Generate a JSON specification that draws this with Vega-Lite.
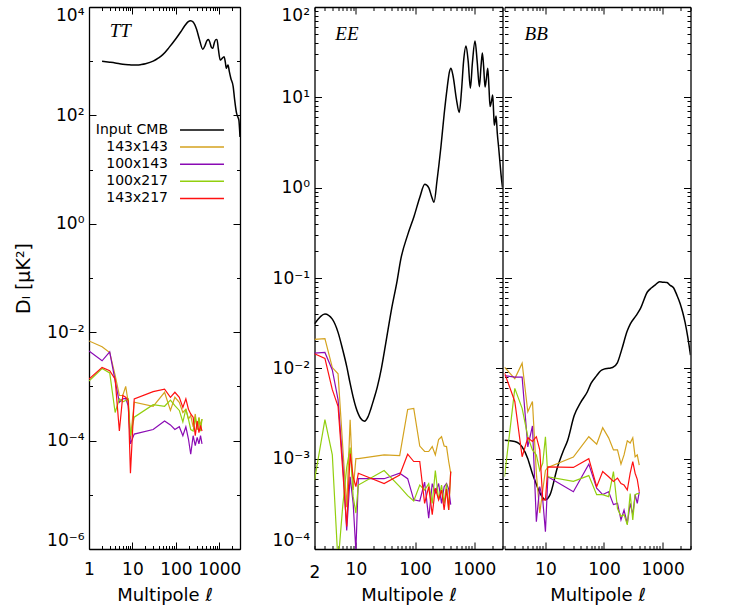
{
"$schema":"https://vega.github.io/schema/vega-lite/v6.json",
"background":"white",
"padding":{"left":14,"top":2,"right":5,"bottom":2},
"datasets":{
"TT":[
{"s":"Input CMB","l":2,"D":1000},{"s":"Input CMB","l":3,"D":960},{"s":"Input CMB","l":4,"D":930},{"s":"Input CMB","l":6,"D":880},{"s":"Input CMB","l":8,"D":860},{"s":"Input CMB","l":10,"D":850},{"s":"Input CMB","l":13,"D":850},{"s":"Input CMB","l":16,"D":870},{"s":"Input CMB","l":20,"D":900},{"s":"Input CMB","l":30,"D":1000},{"s":"Input CMB","l":40,"D":1150},{"s":"Input CMB","l":50,"D":1320},{"s":"Input CMB","l":70,"D":1800},{"s":"Input CMB","l":100,"D":2600},{"s":"Input CMB","l":130,"D":3500},{"s":"Input CMB","l":160,"D":4500},{"s":"Input CMB","l":190,"D":5300},{"s":"Input CMB","l":220,"D":5600},{"s":"Input CMB","l":250,"D":5300},{"s":"Input CMB","l":300,"D":3900},{"s":"Input CMB","l":350,"D":2500},{"s":"Input CMB","l":417,"D":1660},{"s":"Input CMB","l":470,"D":1950},{"s":"Input CMB","l":520,"D":2400},{"s":"Input CMB","l":565,"D":2520},{"s":"Input CMB","l":610,"D":2200},{"s":"Input CMB","l":660,"D":1800},{"s":"Input CMB","l":710,"D":1730},{"s":"Input CMB","l":770,"D":2200},{"s":"Input CMB","l":830,"D":2500},{"s":"Input CMB","l":885,"D":2520},{"s":"Input CMB","l":950,"D":1700},{"s":"Input CMB","l":1050,"D":1050},{"s":"Input CMB","l":1130,"D":1100},{"s":"Input CMB","l":1290,"D":1210},{"s":"Input CMB","l":1380,"D":950},{"s":"Input CMB","l":1450,"D":740},{"s":"Input CMB","l":1520,"D":800},{"s":"Input CMB","l":1590,"D":850},{"s":"Input CMB","l":1700,"D":650},{"s":"Input CMB","l":1850,"D":480},{"s":"Input CMB","l":2090,"D":340},{"s":"Input CMB","l":2250,"D":200},{"s":"Input CMB","l":2500,"D":110},{"s":"Input CMB","l":2650,"D":95},{"s":"Input CMB","l":2820,"D":83},{"s":"Input CMB","l":3000,"D":40},
{"s":"143x143","l":1,"D":6.9e-3},{"s":"143x143","l":2,"D":5.4e-3},{"s":"143x143","l":3,"D":4.2e-3},{"s":"143x143","l":4,"D":1.6e-3},{"s":"143x143","l":5,"D":6.8e-4},{"s":"143x143","l":6,"D":6.8e-4},{"s":"143x143","l":7,"D":1.0e-3},{"s":"143x143","l":8,"D":5.1e-4},{"s":"143x143","l":9,"D":1.07e-4},{"s":"143x143","l":11,"D":5.1e-4},{"s":"143x143","l":30,"D":4.3e-4},{"s":"143x143","l":55,"D":7.8e-4},{"s":"143x143","l":75,"D":3.6e-4},{"s":"143x143","l":95,"D":6.3e-4},{"s":"143x143","l":120,"D":5.1e-4},{"s":"143x143","l":145,"D":3.3e-4},{"s":"143x143","l":170,"D":3.8e-4},{"s":"143x143","l":195,"D":2.5e-4},{"s":"143x143","l":220,"D":2.9e-4},{"s":"143x143","l":250,"D":1.8e-4},{"s":"143x143","l":280,"D":3.1e-4},{"s":"143x143","l":310,"D":1.6e-4},{"s":"143x143","l":340,"D":2.7e-4},{"s":"143x143","l":370,"D":1.9e-4},{"s":"143x143","l":400,"D":2.5e-4},
{"s":"100x143","l":1,"D":4.5e-3},{"s":"100x143","l":2,"D":2.97e-3},{"s":"100x143","l":3,"D":4.35e-3},{"s":"100x143","l":4,"D":1.26e-3},{"s":"100x143","l":5,"D":5.1e-4},{"s":"100x143","l":6,"D":5.9e-4},{"s":"100x143","l":7,"D":6.0e-4},{"s":"100x143","l":8,"D":4.4e-4},{"s":"100x143","l":9,"D":8.7e-5},{"s":"100x143","l":11,"D":1.32e-4},{"s":"100x143","l":30,"D":1.6e-4},{"s":"100x143","l":55,"D":2.3e-4},{"s":"100x143","l":75,"D":1.95e-4},{"s":"100x143","l":95,"D":1.6e-4},{"s":"100x143","l":120,"D":1.8e-4},{"s":"100x143","l":145,"D":1.23e-4},{"s":"100x143","l":170,"D":1.8e-4},{"s":"100x143","l":195,"D":1.07e-4},{"s":"100x143","l":220,"D":5.6e-5},{"s":"100x143","l":250,"D":1.23e-4},{"s":"100x143","l":280,"D":8.1e-5},{"s":"100x143","l":310,"D":1.15e-4},{"s":"100x143","l":340,"D":8.7e-5},{"s":"100x143","l":370,"D":1.23e-4},{"s":"100x143","l":400,"D":8.7e-5},
{"s":"100x217","l":1,"D":1.26e-3},{"s":"100x217","l":2,"D":2.14e-3},{"s":"100x217","l":3,"D":1.77e-3},{"s":"100x217","l":4,"D":3.3e-4},{"s":"100x217","l":5,"D":5.9e-4},{"s":"100x217","l":6,"D":5.2e-4},{"s":"100x217","l":7,"D":5.5e-4},{"s":"100x217","l":8,"D":5.9e-4},{"s":"100x217","l":9,"D":1.23e-4},{"s":"100x217","l":11,"D":2.7e-4},{"s":"100x217","l":30,"D":4.6e-4},{"s":"100x217","l":55,"D":4.3e-4},{"s":"100x217","l":75,"D":5.6e-4},{"s":"100x217","l":95,"D":4.4e-4},{"s":"100x217","l":120,"D":3.6e-4},{"s":"100x217","l":145,"D":2.2e-4},{"s":"100x217","l":170,"D":3.8e-4},{"s":"100x217","l":195,"D":2.5e-4},{"s":"100x217","l":220,"D":1.6e-4},{"s":"100x217","l":250,"D":1.5e-4},{"s":"100x217","l":280,"D":2.7e-4},{"s":"100x217","l":310,"D":1.6e-4},{"s":"100x217","l":340,"D":2.6e-4},{"s":"100x217","l":370,"D":1.5e-4},{"s":"100x217","l":400,"D":2.5e-4},
{"s":"143x217","l":1,"D":1.36e-3},{"s":"143x217","l":2,"D":2.24e-3},{"s":"143x217","l":3,"D":1.95e-3},{"s":"143x217","l":4,"D":1.36e-3},{"s":"143x217","l":5,"D":1.5e-4},{"s":"143x217","l":6,"D":6.8e-4},{"s":"143x217","l":7,"D":6.3e-4},{"s":"143x217","l":8,"D":5.5e-4},{"s":"143x217","l":9,"D":2.5e-5},{"s":"143x217","l":11,"D":5.9e-4},{"s":"143x217","l":30,"D":8.0e-4},{"s":"143x217","l":55,"D":8.9e-4},{"s":"143x217","l":75,"D":6.3e-4},{"s":"143x217","l":95,"D":7.8e-4},{"s":"143x217","l":120,"D":6.3e-4},{"s":"143x217","l":145,"D":4.1e-4},{"s":"143x217","l":170,"D":5.9e-4},{"s":"143x217","l":195,"D":3.8e-4},{"s":"143x217","l":220,"D":3.1e-4},{"s":"143x217","l":250,"D":2.7e-4},{"s":"143x217","l":280,"D":1.23e-4},{"s":"143x217","l":310,"D":2.3e-4},{"s":"143x217","l":340,"D":1.4e-4},{"s":"143x217","l":370,"D":1.9e-4},{"s":"143x217","l":400,"D":1.5e-4}
],
"EE":[
{"s":"Input CMB","l":2,"D":0.031},{"s":"Input CMB","l":3,"D":0.040},{"s":"Input CMB","l":4,"D":0.035},{"s":"Input CMB","l":5,"D":0.025},{"s":"Input CMB","l":6,"D":0.016},{"s":"Input CMB","l":7,"D":0.0105},{"s":"Input CMB","l":8,"D":0.0068},{"s":"Input CMB","l":9,"D":0.0048},{"s":"Input CMB","l":10,"D":0.0037},{"s":"Input CMB","l":12,"D":0.0028},{"s":"Input CMB","l":14,"D":0.0026},{"s":"Input CMB","l":16,"D":0.0029},{"s":"Input CMB","l":18,"D":0.0036},{"s":"Input CMB","l":20,"D":0.0045},{"s":"Input CMB","l":23,"D":0.0062},{"s":"Input CMB","l":27,"D":0.010},{"s":"Input CMB","l":32,"D":0.019},{"s":"Input CMB","l":40,"D":0.045},{"s":"Input CMB","l":50,"D":0.095},{"s":"Input CMB","l":57,"D":0.158},{"s":"Input CMB","l":75,"D":0.30},{"s":"Input CMB","l":96,"D":0.48},{"s":"Input CMB","l":120,"D":0.78},{"s":"Input CMB","l":146,"D":1.09},{"s":"Input CMB","l":170,"D":1.0},{"s":"Input CMB","l":190,"D":0.80},{"s":"Input CMB","l":209,"D":0.69},{"s":"Input CMB","l":235,"D":1.2},{"s":"Input CMB","l":273,"D":2.8},{"s":"Input CMB","l":310,"D":6.5},{"s":"Input CMB","l":350,"D":13},{"s":"Input CMB","l":380,"D":19},{"s":"Input CMB","l":404,"D":21},{"s":"Input CMB","l":440,"D":17},{"s":"Input CMB","l":500,"D":9.5},{"s":"Input CMB","l":558,"D":6.8},{"s":"Input CMB","l":610,"D":12},{"s":"Input CMB","l":660,"D":25},{"s":"Input CMB","l":725,"D":37},{"s":"Input CMB","l":790,"D":25},{"s":"Input CMB","l":860,"D":12.6},{"s":"Input CMB","l":930,"D":24},{"s":"Input CMB","l":1030,"D":42},{"s":"Input CMB","l":1120,"D":25},{"s":"Input CMB","l":1220,"D":13.1},{"s":"Input CMB","l":1300,"D":22},{"s":"Input CMB","l":1370,"D":31},{"s":"Input CMB","l":1440,"D":22},{"s":"Input CMB","l":1520,"D":13},{"s":"Input CMB","l":1600,"D":16},{"s":"Input CMB","l":1690,"D":21},{"s":"Input CMB","l":1770,"D":13},{"s":"Input CMB","l":1850,"D":7.9},{"s":"Input CMB","l":1950,"D":9},{"s":"Input CMB","l":2050,"D":10.6},{"s":"Input CMB","l":2120,"D":7},{"s":"Input CMB","l":2180,"D":4.9},{"s":"Input CMB","l":2260,"D":5.5},{"s":"Input CMB","l":2340,"D":6.2},{"s":"Input CMB","l":2450,"D":4},{"s":"Input CMB","l":2580,"D":2.8},{"s":"Input CMB","l":2700,"D":2},{"s":"Input CMB","l":2820,"D":1.44},{"s":"Input CMB","l":3000,"D":1.0},
{"s":"143x143","l":2,"D":2.09e-2},{"s":"143x143","l":3,"D":2.13e-2},{"s":"143x143","l":4,"D":1.02e-2},{"s":"143x143","l":5,"D":8.7e-3},{"s":"143x143","l":6,"D":1.35e-3},{"s":"143x143","l":7,"D":2.9e-4},{"s":"143x143","l":8,"D":2.7e-3},{"s":"143x143","l":9,"D":4.5e-4},{"s":"143x143","l":10,"D":1.0e-3},{"s":"143x143","l":11,"D":1.0e-3},{"s":"143x143","l":30,"D":1.1e-3},{"s":"143x143","l":55,"D":1.08e-3},{"s":"143x143","l":75,"D":3.5e-3},{"s":"143x143","l":95,"D":3.6e-3},{"s":"143x143","l":120,"D":1.38e-3},{"s":"143x143","l":145,"D":1.2e-3},{"s":"143x143","l":170,"D":1.2e-3},{"s":"143x143","l":195,"D":1.36e-3},{"s":"143x143","l":220,"D":1.1e-3},{"s":"143x143","l":250,"D":1.63e-3},{"s":"143x143","l":280,"D":1.75e-3},{"s":"143x143","l":310,"D":1.38e-3},{"s":"143x143","l":340,"D":1.36e-3},{"s":"143x143","l":370,"D":9.3e-4},{"s":"143x143","l":400,"D":6.9e-4},
{"s":"100x143","l":2,"D":1.47e-2},{"s":"100x143","l":3,"D":1.5e-2},{"s":"100x143","l":4,"D":9.6e-3},{"s":"100x143","l":5,"D":4.5e-3},{"s":"100x143","l":6,"D":8.9e-4},{"s":"100x143","l":7,"D":1.6e-4},{"s":"100x143","l":8,"D":6.3e-4},{"s":"100x143","l":9,"D":3.2e-4},{"s":"100x143","l":10,"D":9.5e-5},{"s":"100x143","l":11,"D":6.0e-4},{"s":"100x143","l":30,"D":6.0e-4},{"s":"100x143","l":55,"D":6.9e-4},{"s":"100x143","l":75,"D":6.0e-4},{"s":"100x143","l":95,"D":3.5e-4},{"s":"100x143","l":120,"D":3.4e-4},{"s":"100x143","l":145,"D":5.5e-4},{"s":"100x143","l":170,"D":2.2e-4},{"s":"100x143","l":195,"D":5.3e-4},{"s":"100x143","l":220,"D":4.2e-4},{"s":"100x143","l":250,"D":5.3e-4},{"s":"100x143","l":280,"D":3.2e-4},{"s":"100x143","l":310,"D":4.9e-4},{"s":"100x143","l":340,"D":5.3e-4},{"s":"100x143","l":370,"D":4.6e-4},{"s":"100x143","l":400,"D":3.1e-4},
{"s":"100x217","l":2,"D":5.8e-4},{"s":"100x217","l":3,"D":2.7e-3},{"s":"100x217","l":4,"D":1.1e-3},{"s":"100x217","l":5,"D":6.9e-5},{"s":"100x217","l":6,"D":3.0e-4},{"s":"100x217","l":7,"D":8.0e-4},{"s":"100x217","l":8,"D":1.33e-3},{"s":"100x217","l":9,"D":3.8e-4},{"s":"100x217","l":10,"D":2.5e-4},{"s":"100x217","l":11,"D":5.1e-4},{"s":"100x217","l":30,"D":7.4e-4},{"s":"100x217","l":55,"D":4.9e-4},{"s":"100x217","l":75,"D":3.9e-4},{"s":"100x217","l":95,"D":3.4e-4},{"s":"100x217","l":120,"D":5.1e-4},{"s":"100x217","l":145,"D":4.5e-4},{"s":"100x217","l":170,"D":5.3e-4},{"s":"100x217","l":195,"D":3.2e-4},{"s":"100x217","l":220,"D":7.4e-4},{"s":"100x217","l":250,"D":3.5e-4},{"s":"100x217","l":280,"D":5.1e-4},{"s":"100x217","l":310,"D":3.2e-4},{"s":"100x217","l":340,"D":5.3e-4},{"s":"100x217","l":370,"D":2.7e-4},{"s":"100x217","l":400,"D":7.2e-4},
{"s":"143x217","l":2,"D":1.45e-2},{"s":"143x217","l":3,"D":1.29e-2},{"s":"143x217","l":4,"D":5.8e-3},{"s":"143x217","l":5,"D":3.8e-3},{"s":"143x217","l":6,"D":7.4e-4},{"s":"143x217","l":7,"D":1.78e-4},{"s":"143x217","l":8,"D":1.14e-3},{"s":"143x217","l":9,"D":6.3e-4},{"s":"143x217","l":10,"D":4.9e-4},{"s":"143x217","l":11,"D":6.9e-4},{"s":"143x217","l":30,"D":5.3e-4},{"s":"143x217","l":55,"D":6.6e-4},{"s":"143x217","l":75,"D":1.12e-3},{"s":"143x217","l":95,"D":9.3e-4},{"s":"143x217","l":120,"D":9.3e-4},{"s":"143x217","l":145,"D":3.2e-4},{"s":"143x217","l":170,"D":4.9e-4},{"s":"143x217","l":195,"D":2.4e-4},{"s":"143x217","l":220,"D":4.7e-4},{"s":"143x217","l":250,"D":3.5e-4},{"s":"143x217","l":280,"D":4.5e-4},{"s":"143x217","l":310,"D":2.7e-4},{"s":"143x217","l":340,"D":4.6e-4},{"s":"143x217","l":370,"D":2.7e-4},{"s":"143x217","l":400,"D":7.2e-4}
],
"BB":[
{"s":"Input CMB","l":2,"D":1.6e-3},{"s":"Input CMB","l":3,"D":1.55e-3},{"s":"Input CMB","l":4,"D":1.35e-3},{"s":"Input CMB","l":5,"D":1.0e-3},{"s":"Input CMB","l":6,"D":6.8e-4},{"s":"Input CMB","l":7,"D":5.2e-4},{"s":"Input CMB","l":8,"D":4.2e-4},{"s":"Input CMB","l":10,"D":3.5e-4},{"s":"Input CMB","l":12,"D":4.0e-4},{"s":"Input CMB","l":16,"D":8.0e-4},{"s":"Input CMB","l":20,"D":1.2e-3},{"s":"Input CMB","l":24,"D":1.6e-3},{"s":"Input CMB","l":31,"D":3.0e-3},{"s":"Input CMB","l":40,"D":4.2e-3},{"s":"Input CMB","l":52,"D":5.5e-3},{"s":"Input CMB","l":60,"D":6.8e-3},{"s":"Input CMB","l":75,"D":8.3e-3},{"s":"Input CMB","l":88,"D":9.4e-3},{"s":"Input CMB","l":100,"D":9.8e-3},{"s":"Input CMB","l":120,"D":1.0e-2},{"s":"Input CMB","l":140,"D":1.02e-2},{"s":"Input CMB","l":169,"D":1.15e-2},{"s":"Input CMB","l":200,"D":1.6e-2},{"s":"Input CMB","l":250,"D":2.6e-2},{"s":"Input CMB","l":282,"D":3.1e-2},{"s":"Input CMB","l":350,"D":3.8e-2},{"s":"Input CMB","l":420,"D":4.6e-2},{"s":"Input CMB","l":550,"D":7.0e-2},{"s":"Input CMB","l":650,"D":7.8e-2},{"s":"Input CMB","l":754,"D":8.4e-2},{"s":"Input CMB","l":890,"D":9.1e-2},{"s":"Input CMB","l":1000,"D":9.0e-2},{"s":"Input CMB","l":1190,"D":8.9e-2},{"s":"Input CMB","l":1350,"D":8.3e-2},{"s":"Input CMB","l":1540,"D":7.8e-2},{"s":"Input CMB","l":1750,"D":6.5e-2},{"s":"Input CMB","l":2000,"D":5.2e-2},{"s":"Input CMB","l":2200,"D":4.2e-2},{"s":"Input CMB","l":2430,"D":3.2e-2},{"s":"Input CMB","l":2700,"D":2.2e-2},{"s":"Input CMB","l":3000,"D":1.4e-2},
{"s":"143x143","l":2,"D":1.03e-2},{"s":"143x143","l":3,"D":7.7e-3},{"s":"143x143","l":4,"D":1.14e-2},{"s":"143x143","l":5,"D":3.3e-3},{"s":"143x143","l":6,"D":4.3e-3},{"s":"143x143","l":7,"D":6.9e-4},{"s":"143x143","l":8,"D":2.5e-4},{"s":"143x143","l":9,"D":4.5e-4},{"s":"143x143","l":10,"D":7.4e-4},{"s":"143x143","l":11,"D":8.0e-4},{"s":"143x143","l":30,"D":1.04e-3},{"s":"143x143","l":55,"D":1.75e-3},{"s":"143x143","l":75,"D":1.45e-3},{"s":"143x143","l":95,"D":2.2e-3},{"s":"143x143","l":120,"D":1.7e-3},{"s":"143x143","l":145,"D":1.25e-3},{"s":"143x143","l":170,"D":1.25e-3},{"s":"143x143","l":195,"D":8.7e-4},{"s":"143x143","l":220,"D":1.1e-3},{"s":"143x143","l":250,"D":1.58e-3},{"s":"143x143","l":280,"D":1.49e-3},{"s":"143x143","l":310,"D":1.7e-3},{"s":"143x143","l":340,"D":1.05e-3},{"s":"143x143","l":370,"D":1.1e-3},{"s":"143x143","l":400,"D":8.5e-4},
{"s":"100x143","l":2,"D":8.3e-3},{"s":"100x143","l":3,"D":8.0e-3},{"s":"100x143","l":4,"D":8.0e-3},{"s":"100x143","l":5,"D":1.35e-3},{"s":"100x143","l":6,"D":2.3e-3},{"s":"100x143","l":7,"D":2.0e-4},{"s":"100x143","l":8,"D":4.9e-4},{"s":"100x143","l":9,"D":3.5e-4},{"s":"100x143","l":10,"D":1.55e-4},{"s":"100x143","l":11,"D":6.3e-4},{"s":"100x143","l":30,"D":4.3e-4},{"s":"100x143","l":55,"D":8.7e-4},{"s":"100x143","l":75,"D":4.7e-4},{"s":"100x143","l":95,"D":4.0e-4},{"s":"100x143","l":120,"D":4.3e-4},{"s":"100x143","l":145,"D":3.1e-4},{"s":"100x143","l":170,"D":3.2e-4},{"s":"100x143","l":195,"D":2.1e-4},{"s":"100x143","l":220,"D":2.7e-4},{"s":"100x143","l":250,"D":1.9e-4},{"s":"100x143","l":280,"D":3.2e-4},{"s":"100x143","l":310,"D":2.4e-4},{"s":"100x143","l":340,"D":4.0e-4},{"s":"100x143","l":370,"D":3.2e-4},{"s":"100x143","l":400,"D":4.3e-4},
{"s":"100x217","l":2,"D":6.3e-4},{"s":"100x217","l":3,"D":6.0e-3},{"s":"100x217","l":4,"D":3.6e-3},{"s":"100x217","l":5,"D":1.75e-3},{"s":"100x217","l":6,"D":1.25e-3},{"s":"100x217","l":7,"D":1.1e-3},{"s":"100x217","l":8,"D":7.4e-4},{"s":"100x217","l":9,"D":8.9e-4},{"s":"100x217","l":10,"D":1.75e-3},{"s":"100x217","l":11,"D":6.3e-4},{"s":"100x217","l":30,"D":5.6e-4},{"s":"100x217","l":55,"D":6.5e-4},{"s":"100x217","l":75,"D":4.0e-4},{"s":"100x217","l":95,"D":4.0e-4},{"s":"100x217","l":120,"D":3.8e-4},{"s":"100x217","l":145,"D":7.2e-4},{"s":"100x217","l":170,"D":2.8e-4},{"s":"100x217","l":195,"D":2.3e-4},{"s":"100x217","l":220,"D":2.4e-4},{"s":"100x217","l":250,"D":1.85e-4},{"s":"100x217","l":280,"D":4.1e-4},{"s":"100x217","l":310,"D":2.1e-4},{"s":"100x217","l":340,"D":4.0e-4},{"s":"100x217","l":370,"D":4.1e-4},{"s":"100x217","l":400,"D":4.1e-4},
{"s":"143x217","l":2,"D":8.9e-3},{"s":"143x217","l":3,"D":4.3e-3},{"s":"143x217","l":4,"D":1.05e-3},{"s":"143x217","l":5,"D":1.7e-3},{"s":"143x217","l":6,"D":1.55e-3},{"s":"143x217","l":7,"D":1.75e-3},{"s":"143x217","l":8,"D":1.25e-3},{"s":"143x217","l":9,"D":3.5e-4},{"s":"143x217","l":10,"D":3.5e-4},{"s":"143x217","l":11,"D":8.1e-4},{"s":"143x217","l":30,"D":8.0e-4},{"s":"143x217","l":55,"D":1.0e-3},{"s":"143x217","l":75,"D":4.9e-4},{"s":"143x217","l":95,"D":7.2e-4},{"s":"143x217","l":120,"D":6.3e-4},{"s":"143x217","l":145,"D":5.6e-4},{"s":"143x217","l":170,"D":6.1e-4},{"s":"143x217","l":195,"D":5.3e-4},{"s":"143x217","l":220,"D":5.1e-4},{"s":"143x217","l":250,"D":4.5e-4},{"s":"143x217","l":280,"D":6.9e-4},{"s":"143x217","l":310,"D":9.3e-4},{"s":"143x217","l":340,"D":6.9e-4},{"s":"143x217","l":370,"D":5.9e-4},{"s":"143x217","l":400,"D":4.3e-4}
]
},
"spacing":30.5,
"resolve":{"scale":{"color":"independent"},"legend":{"color":"independent"}},
"hconcat":[
{
"width":151,"height":542,
"data":{"name":"TT"},
"layer":[
{"transform":[{"filter":"datum.s=='Input CMB'"}],
"mark":{"type":"line","interpolate":"monotone","strokeWidth":1.5,"clip":true},
"encoding":{
"x":{"field":"l","type":"quantitative","scale":{"type":"log","domain":[1,3000],"nice":false},
"axis":{"orient":"bottom","values":[1,2,3,4,5,6,7,8,9,10,20,30,40,50,60,70,80,90,100,200,300,400,500,600,700,800,900,1000,2000,3000],"format":"d","labelExpr":"(datum.value==1||datum.value==10||datum.value==100||datum.value==1000)?datum.label:''","tickSize":{"condition":{"test":"datum.value==1||datum.value==10||datum.value==100||datum.value==1000","value":-7},"value":-3.5},"labelPadding":19,"labelFlush":false,"labelOverlap":false,"title":"Multipole ℓ","titlePadding":6}},
"y":{"field":"D","type":"quantitative","scale":{"type":"log","domain":[1e-6,1e4],"nice":false},
"axis":{"orient":"left","values":[1e-6,1e-5,1e-4,1e-3,1e-2,0.1,1,10,100,1000,10000],"labelExpr":"round(log(datum.value)/LN10)%2==0?'10'+replace(replace(replace(replace(replace(replace(replace(replace(''+round(log(datum.value)/LN10),'-','⁻'),'0','⁰'),'1','¹'),'2','²'),'3','³'),'4','⁴'),'5','⁵'),'6','⁶'):''","tickSize":{"condition":{"test":"round(log(datum.value)/LN10)%2==0","value":-7},"value":-3.5},"labelPadding":12,"labelFlush":true,"labelOverlap":false,"title":"Dₗ [μK²]","titlePadding":13,"titleFontSize":19}},
"color":{"field":"s","type":"nominal","scale":{"domain":["Input CMB","143x143","100x143","100x217","143x217"],"range":["#000000","#D4A21E","#8A0AB4","#92CF0E","#FF1010"]},
"legend":{"orient":"none","legendX":90,"legendY":115,"title":null,"symbolType":"M-3.14,0H3.14","symbolSize":196,"symbolStrokeWidth":1.5,"symbolOffset":15,"labelAlign":"right","labelOffset":-42,"labelFont":"DejaVu Sans","labelFontSize":14,"rowPadding":2.1,"padding":0,"labelLimit":0}}
}},
{"transform":[{"filter":"datum.s!='Input CMB'"}],
"mark":{"type":"line","strokeWidth":1.2,"clip":true},
"encoding":{
"x":{"field":"l","type":"quantitative","scale":{"type":"log","domain":[1,3000],"nice":false},"axis":null},
"y":{"field":"D","type":"quantitative","scale":{"type":"log","domain":[1e-6,1e4],"nice":false},"axis":null},
"color":{"field":"s","type":"nominal","scale":{"domain":["Input CMB","143x143","100x143","100x217","143x217"],"range":["#000000","#D4A21E","#8A0AB4","#92CF0E","#FF1010"]},
"legend":{"orient":"none","legendX":90,"legendY":115,"title":null,"symbolType":"M-3.14,0H3.14","symbolSize":196,"symbolStrokeWidth":1.5,"symbolOffset":15,"labelAlign":"right","labelOffset":-42,"labelFont":"DejaVu Sans","labelFontSize":14,"rowPadding":2.1,"padding":0,"labelLimit":0}}
}},
{"data":{"values":[{}]},
"mark":{"type":"text","align":"left","baseline":"alphabetic","font":"Liberation Serif","fontStyle":"italic","fontSize":19},
"encoding":{
"x":{"datum":3,"type":"quantitative","scale":{"type":"log","domain":[1,3000],"nice":false},
"axis":{"orient":"top","values":[1,2,3,4,5,6,7,8,9,10,20,30,40,50,60,70,80,90,100,200,300,400,500,600,700,800,900,1000,2000,3000],"labels":false,"title":null,"tickSize":{"condition":{"test":"datum.value==1||datum.value==10||datum.value==100||datum.value==1000","value":-7},"value":-3.5},"minExtent":0,"maxExtent":0}},
"y":{"datum":2800,"type":"quantitative","scale":{"type":"log","domain":[1e-6,1e4],"nice":false},
"axis":{"orient":"right","values":[1e-6,1e-5,1e-4,1e-3,1e-2,0.1,1,10,100,1000,10000],"labels":false,"title":null,"tickSize":{"condition":{"test":"round(log(datum.value)/LN10)%2==0","value":-7},"value":-3.5},"minExtent":0,"maxExtent":0}},
"text":{"value":"TT"}
}}
],
"resolve":{"axis":{"x":"independent","y":"independent"}}
},
{
"spacing":0,
"hconcat":[
{
"width":188,"height":542,
"data":{"name":"EE"},
"layer":[
{"transform":[{"filter":"datum.s=='Input CMB'"}],
"mark":{"type":"line","interpolate":"monotone","strokeWidth":1.5,"clip":true},
"encoding":{
"x":{"field":"l","type":"quantitative","scale":{"type":"log","domain":[2,3000],"nice":false},
"axis":{"orient":"bottom","values":[2,3,4,5,6,7,8,9,10,20,30,40,50,60,70,80,90,100,200,300,400,500,600,700,800,900,1000,2000,3000],"format":"d","labelExpr":"(datum.value==2||datum.value==10||datum.value==100||datum.value==1000)?datum.label:''","tickSize":{"condition":{"test":"datum.value==10||datum.value==100||datum.value==1000","value":-7},"value":-3.5},"labelPadding":19,"labelFlush":false,"labelOverlap":false,"title":"Multipole ℓ","titlePadding":6}},
"y":{"field":"D","type":"quantitative","scale":{"type":"log","domain":[1e-4,100],"nice":false},
"axis":{"orient":"left","values":[0.0001,0.0002,0.0003,0.0004,0.0005,0.0006,0.0007,0.0008,0.0009,0.001,0.002,0.003,0.004,0.005,0.006,0.007,0.008,0.009,0.01,0.02,0.03,0.04,0.05,0.06,0.07,0.08,0.09,0.1,0.2,0.3,0.4,0.5,0.6,0.7,0.8,0.9,1,2,3,4,5,6,7,8,9,10,20,30,40,50,60,70,80,90,100],"labelExpr":"abs(datum.value/pow(10,round(log(datum.value)/LN10))-1)<1e-6?'10'+replace(replace(replace(replace(replace(replace(replace(replace(''+round(log(datum.value)/LN10),'-','⁻'),'0','⁰'),'1','¹'),'2','²'),'3','³'),'4','⁴'),'5','⁵'),'6','⁶'):''","tickSize":{"condition":{"test":"abs(datum.value/pow(10,round(log(datum.value)/LN10))-1)<1e-6","value":-7},"value":-3.5},"labelPadding":12,"labelFlush":true,"labelOverlap":false,"title":null,"minExtent":40,"maxExtent":40}},
"color":{"field":"s","type":"nominal","scale":{"domain":["Input CMB","143x143","100x143","100x217","143x217"],"range":["#000000","#D4A21E","#8A0AB4","#92CF0E","#FF1010"]},"legend":null}
}},
{"transform":[{"filter":"datum.s!='Input CMB'"}],
"mark":{"type":"line","strokeWidth":1.2,"clip":true},
"encoding":{
"x":{"field":"l","type":"quantitative","scale":{"type":"log","domain":[2,3000],"nice":false},"axis":null},
"y":{"field":"D","type":"quantitative","scale":{"type":"log","domain":[1e-4,100],"nice":false},"axis":null},
"color":{"field":"s","type":"nominal","scale":{"domain":["Input CMB","143x143","100x143","100x217","143x217"],"range":["#000000","#D4A21E","#8A0AB4","#92CF0E","#FF1010"]},"legend":null}
}},
{"data":{"values":[{}]},
"mark":{"type":"text","align":"left","baseline":"alphabetic","font":"Liberation Serif","fontStyle":"italic","fontSize":19},
"encoding":{
"x":{"datum":4.5,"type":"quantitative","scale":{"type":"log","domain":[2,3000],"nice":false},
"axis":{"orient":"top","values":[2,3,4,5,6,7,8,9,10,20,30,40,50,60,70,80,90,100,200,300,400,500,600,700,800,900,1000,2000,3000],"labels":false,"title":null,"tickSize":{"condition":{"test":"datum.value==10||datum.value==100||datum.value==1000","value":-7},"value":-3.5},"minExtent":0,"maxExtent":0}},
"y":{"datum":43,"type":"quantitative","scale":{"type":"log","domain":[1e-4,100],"nice":false},
"axis":{"orient":"right","values":[0.0001,0.0002,0.0003,0.0004,0.0005,0.0006,0.0007,0.0008,0.0009,0.001,0.002,0.003,0.004,0.005,0.006,0.007,0.008,0.009,0.01,0.02,0.03,0.04,0.05,0.06,0.07,0.08,0.09,0.1,0.2,0.3,0.4,0.5,0.6,0.7,0.8,0.9,1,2,3,4,5,6,7,8,9,10,20,30,40,50,60,70,80,90,100],"labels":false,"title":null,"tickSize":{"condition":{"test":"abs(datum.value/pow(10,round(log(datum.value)/LN10))-1)<1e-6","value":-7},"value":-3.5},"minExtent":0,"maxExtent":0}},
"text":{"value":"EE"}
}}
],
"resolve":{"axis":{"x":"independent","y":"independent"}}
},
{
"width":186,"height":542,
"data":{"name":"BB"},
"layer":[
{"transform":[{"filter":"datum.s=='Input CMB'"}],
"mark":{"type":"line","interpolate":"monotone","strokeWidth":1.5,"clip":true},
"encoding":{
"x":{"field":"l","type":"quantitative","scale":{"type":"log","domain":[2,3000],"nice":false},
"axis":{"orient":"bottom","values":[2,3,4,5,6,7,8,9,10,20,30,40,50,60,70,80,90,100,200,300,400,500,600,700,800,900,1000,2000,3000],"format":"d","labelExpr":"(datum.value==10||datum.value==100||datum.value==1000)?datum.label:''","tickSize":{"condition":{"test":"datum.value==10||datum.value==100||datum.value==1000","value":-7},"value":-3.5},"labelPadding":19,"labelFlush":false,"labelOverlap":false,"title":"Multipole ℓ","titlePadding":6}},
"y":{"field":"D","type":"quantitative","scale":{"type":"log","domain":[1e-4,100],"nice":false},
"axis":{"orient":"left","values":[0.0001,0.0002,0.0003,0.0004,0.0005,0.0006,0.0007,0.0008,0.0009,0.001,0.002,0.003,0.004,0.005,0.006,0.007,0.008,0.009,0.01,0.02,0.03,0.04,0.05,0.06,0.07,0.08,0.09,0.1,0.2,0.3,0.4,0.5,0.6,0.7,0.8,0.9,1,2,3,4,5,6,7,8,9,10,20,30,40,50,60,70,80,90,100],"labels":false,"domain":false,"title":null,"tickSize":{"condition":{"test":"abs(datum.value/pow(10,round(log(datum.value)/LN10))-1)<1e-6","value":-7},"value":-3.5},"minExtent":0,"maxExtent":0}},
"color":{"field":"s","type":"nominal","scale":{"domain":["Input CMB","143x143","100x143","100x217","143x217"],"range":["#000000","#D4A21E","#8A0AB4","#92CF0E","#FF1010"]},"legend":null}
}},
{"transform":[{"filter":"datum.s!='Input CMB'"}],
"mark":{"type":"line","strokeWidth":1.2,"clip":true},
"encoding":{
"x":{"field":"l","type":"quantitative","scale":{"type":"log","domain":[2,3000],"nice":false},"axis":null},
"y":{"field":"D","type":"quantitative","scale":{"type":"log","domain":[1e-4,100],"nice":false},"axis":null},
"color":{"field":"s","type":"nominal","scale":{"domain":["Input CMB","143x143","100x143","100x217","143x217"],"range":["#000000","#D4A21E","#8A0AB4","#92CF0E","#FF1010"]},"legend":null}
}},
{"data":{"values":[{}]},
"mark":{"type":"text","align":"left","baseline":"alphabetic","font":"Liberation Serif","fontStyle":"italic","fontSize":19},
"encoding":{
"x":{"datum":4.4,"type":"quantitative","scale":{"type":"log","domain":[2,3000],"nice":false},
"axis":{"orient":"top","values":[2,3,4,5,6,7,8,9,10,20,30,40,50,60,70,80,90,100,200,300,400,500,600,700,800,900,1000,2000,3000],"labels":false,"title":null,"tickSize":{"condition":{"test":"datum.value==10||datum.value==100||datum.value==1000","value":-7},"value":-3.5},"minExtent":0,"maxExtent":0}},
"y":{"datum":43,"type":"quantitative","scale":{"type":"log","domain":[1e-4,100],"nice":false},
"axis":{"orient":"right","values":[0.0001,0.0002,0.0003,0.0004,0.0005,0.0006,0.0007,0.0008,0.0009,0.001,0.002,0.003,0.004,0.005,0.006,0.007,0.008,0.009,0.01,0.02,0.03,0.04,0.05,0.06,0.07,0.08,0.09,0.1,0.2,0.3,0.4,0.5,0.6,0.7,0.8,0.9,1,2,3,4,5,6,7,8,9,10,20,30,40,50,60,70,80,90,100],"labels":false,"title":null,"tickSize":{"condition":{"test":"abs(datum.value/pow(10,round(log(datum.value)/LN10))-1)<1e-6","value":-7},"value":-3.5},"minExtent":0,"maxExtent":0}},
"text":{"value":"BB"}
}}
],
"resolve":{"axis":{"x":"independent","y":"independent"}}
}
]
}
],
"config":{
"view":{"stroke":null},
"axis":{"domainColor":"#000000","domainWidth":1.3,"tickColor":"#000000","tickWidth":1,"labelColor":"#000000","titleColor":"#000000","labelFont":"DejaVu Sans","labelFontSize":17,"titleFont":"DejaVu Sans","titleFontSize":18,"titleFontWeight":"normal","grid":false}
}
}
